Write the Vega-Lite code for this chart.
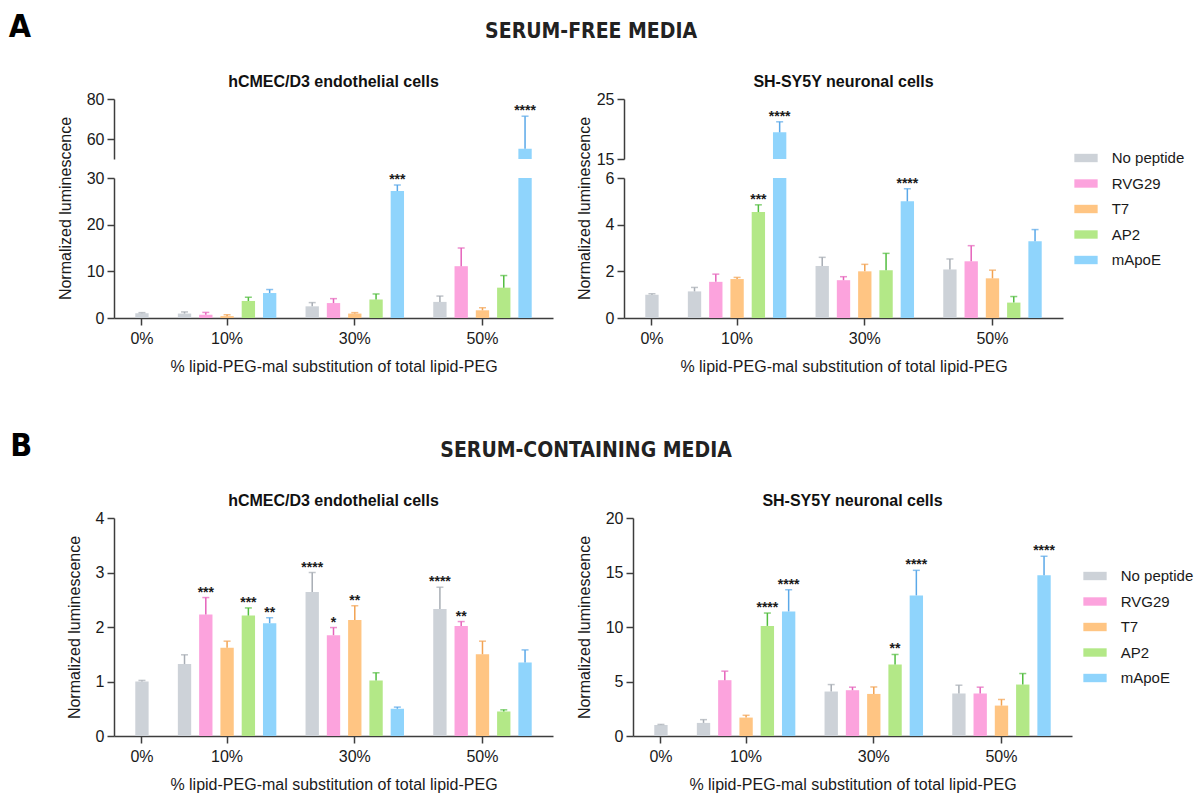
{
 "$schema": "https://vega.github.io/schema/vega-lite/v6.json",
 "background": "white",
 "padding": {"left": 8, "top": 11, "right": 2, "bottom": 2},
 "spacing": 56,
 "datasets": {
  "AL": [
   {"bar":"0% No peptide","peptide":"No peptide","value":1.0,"hi":1.15,"sig":""},
   {"bar":"10% No peptide","peptide":"No peptide","value":0.95,"hi":1.3,"sig":""},
   {"bar":"10% RVG29","peptide":"RVG29","value":0.7,"hi":1.2,"sig":""},
   {"bar":"10% T7","peptide":"T7","value":0.4,"hi":0.7,"sig":""},
   {"bar":"10% AP2","peptide":"AP2","value":3.65,"hi":4.45,"sig":""},
   {"bar":"10% mApoE","peptide":"mApoE","value":5.35,"hi":6.1,"sig":""},
   {"bar":"30% No peptide","peptide":"No peptide","value":2.5,"hi":3.3,"sig":""},
   {"bar":"30% RVG29","peptide":"RVG29","value":3.2,"hi":4.15,"sig":""},
   {"bar":"30% T7","peptide":"T7","value":0.95,"hi":1.15,"sig":""},
   {"bar":"30% AP2","peptide":"AP2","value":3.95,"hi":5.15,"sig":""},
   {"bar":"30% mApoE","peptide":"mApoE","value":27.2,"hi":28.5,"sig":"***"},
   {"bar":"50% No peptide","peptide":"No peptide","value":3.45,"hi":4.7,"sig":""},
   {"bar":"50% RVG29","peptide":"RVG29","value":11.1,"hi":15.0,"sig":""},
   {"bar":"50% T7","peptide":"T7","value":1.65,"hi":2.2,"sig":""},
   {"bar":"50% AP2","peptide":"AP2","value":6.5,"hi":9.1,"sig":""},
   {"bar":"50% mApoE","peptide":"mApoE","value":55.1,"hi":71.4,"sig":"****"}
  ],
  "AR": [
   {"bar":"0% No peptide","peptide":"No peptide","value":1.0,"hi":1.04,"sig":""},
   {"bar":"10% No peptide","peptide":"No peptide","value":1.14,"hi":1.31,"sig":""},
   {"bar":"10% RVG29","peptide":"RVG29","value":1.55,"hi":1.88,"sig":""},
   {"bar":"10% T7","peptide":"T7","value":1.67,"hi":1.74,"sig":""},
   {"bar":"10% AP2","peptide":"AP2","value":4.54,"hi":4.85,"sig":"***"},
   {"bar":"10% mApoE","peptide":"mApoE","value":19.44,"hi":21.2,"sig":"****"},
   {"bar":"30% No peptide","peptide":"No peptide","value":2.23,"hi":2.6,"sig":""},
   {"bar":"30% RVG29","peptide":"RVG29","value":1.62,"hi":1.77,"sig":""},
   {"bar":"30% T7","peptide":"T7","value":2.0,"hi":2.3,"sig":""},
   {"bar":"30% AP2","peptide":"AP2","value":2.05,"hi":2.77,"sig":""},
   {"bar":"30% mApoE","peptide":"mApoE","value":5.0,"hi":5.54,"sig":"****"},
   {"bar":"50% No peptide","peptide":"No peptide","value":2.08,"hi":2.53,"sig":""},
   {"bar":"50% RVG29","peptide":"RVG29","value":2.43,"hi":3.1,"sig":""},
   {"bar":"50% T7","peptide":"T7","value":1.7,"hi":2.05,"sig":""},
   {"bar":"50% AP2","peptide":"AP2","value":0.66,"hi":0.92,"sig":""},
   {"bar":"50% mApoE","peptide":"mApoE","value":3.29,"hi":3.79,"sig":""}
  ],
  "BL": [
   {"bar":"0% No peptide","peptide":"No peptide","value":1.0,"hi":1.02,"sig":""},
   {"bar":"10% No peptide","peptide":"No peptide","value":1.32,"hi":1.49,"sig":""},
   {"bar":"10% RVG29","peptide":"RVG29","value":2.23,"hi":2.54,"sig":"***"},
   {"bar":"10% T7","peptide":"T7","value":1.62,"hi":1.74,"sig":""},
   {"bar":"10% AP2","peptide":"AP2","value":2.21,"hi":2.35,"sig":"***"},
   {"bar":"10% mApoE","peptide":"mApoE","value":2.07,"hi":2.17,"sig":"**"},
   {"bar":"30% No peptide","peptide":"No peptide","value":2.64,"hi":3.0,"sig":"****"},
   {"bar":"30% RVG29","peptide":"RVG29","value":1.85,"hi":1.99,"sig":"*"},
   {"bar":"30% T7","peptide":"T7","value":2.13,"hi":2.39,"sig":"**"},
   {"bar":"30% AP2","peptide":"AP2","value":1.02,"hi":1.16,"sig":""},
   {"bar":"30% mApoE","peptide":"mApoE","value":0.5,"hi":0.53,"sig":""},
   {"bar":"50% No peptide","peptide":"No peptide","value":2.33,"hi":2.73,"sig":"****"},
   {"bar":"50% RVG29","peptide":"RVG29","value":2.02,"hi":2.1,"sig":"**"},
   {"bar":"50% T7","peptide":"T7","value":1.5,"hi":1.74,"sig":""},
   {"bar":"50% AP2","peptide":"AP2","value":0.45,"hi":0.48,"sig":""},
   {"bar":"50% mApoE","peptide":"mApoE","value":1.35,"hi":1.58,"sig":""}
  ],
  "BR": [
   {"bar":"0% No peptide","peptide":"No peptide","value":1.0,"hi":1.06,"sig":""},
   {"bar":"10% No peptide","peptide":"No peptide","value":1.2,"hi":1.5,"sig":""},
   {"bar":"10% RVG29","peptide":"RVG29","value":5.12,"hi":5.95,"sig":""},
   {"bar":"10% T7","peptide":"T7","value":1.69,"hi":1.9,"sig":""},
   {"bar":"10% AP2","peptide":"AP2","value":10.1,"hi":11.28,"sig":"****"},
   {"bar":"10% mApoE","peptide":"mApoE","value":11.43,"hi":13.42,"sig":"****"},
   {"bar":"30% No peptide","peptide":"No peptide","value":4.08,"hi":4.72,"sig":""},
   {"bar":"30% RVG29","peptide":"RVG29","value":4.2,"hi":4.48,"sig":""},
   {"bar":"30% T7","peptide":"T7","value":3.86,"hi":4.5,"sig":""},
   {"bar":"30% AP2","peptide":"AP2","value":6.56,"hi":7.48,"sig":"**"},
   {"bar":"30% mApoE","peptide":"mApoE","value":12.9,"hi":15.2,"sig":"****"},
   {"bar":"50% No peptide","peptide":"No peptide","value":3.9,"hi":4.66,"sig":""},
   {"bar":"50% RVG29","peptide":"RVG29","value":3.9,"hi":4.48,"sig":""},
   {"bar":"50% T7","peptide":"T7","value":2.79,"hi":3.35,"sig":""},
   {"bar":"50% AP2","peptide":"AP2","value":4.72,"hi":5.73,"sig":""},
   {"bar":"50% mApoE","peptide":"mApoE","value":14.74,"hi":16.49,"sig":"****"}
  ]
 },
 "vconcat": [
  {
   "title": {"text": "A", "orient": "left", "anchor": "end", "angle": 0, "align": "right", "baseline": "top", "offset": 4, "dy": -9, "fontSize": 32, "font": "Liberation Sans Narrow, DejaVu Sans Condensed, sans-serif", "fontWeight": "bold", "color": "#000000"},
   "vconcat": [
    {
     "title": {"text": "SERUM-FREE MEDIA", "anchor": "middle", "fontSize": 21, "font": "Liberation Sans Narrow, DejaVu Sans Condensed, sans-serif", "fontWeight": "bold", "color": "#222222", "offset": 32, "dx": -30},
     "spacing": 23,
     "hconcat": [
      {
       "bounds": "flush",
       "spacing": 19,
       "vconcat": [
        {
         "title": {"text": "hCMEC/D3 endothelial cells", "frame": "group", "anchor": "middle", "offset": 1},
         "width": 439, "height": 60,
         "data": {"name": "AL"},
         "layer": [
          {"mark": {"type": "bar", "clip": true},
           "encoding": {
            "x": {"field": "bar", "type": "nominal", "sort": null, "scale": {"domain": ["0% No peptide","g1","10% No peptide","10% RVG29","10% T7","10% AP2","10% mApoE","g2","30% No peptide","30% RVG29","30% T7","30% AP2","30% mApoE","g3","50% No peptide","50% RVG29","50% T7","50% AP2","50% mApoE"], "paddingInner": 0.373, "paddingOuter": 1.28}, "axis": null},
            "y": {"field": "value", "type": "quantitative", "scale": {"domain": [50, 80], "nice": false}, "axis": {"title": null, "values": [60, 80], "format": "d"}},
            "color": {"field": "peptide", "type": "nominal", "scale": {"domain": ["No peptide","RVG29","T7","AP2","mApoE"], "range": ["#cdd2d8","#fca3dd","#ffc583","#b3e887","#8fd4fc"]}, "legend": null}
           }},
          {"mark": {"type": "rule", "clip": true, "strokeWidth": 1.5},
           "encoding": {
            "x": {"field": "bar", "type": "nominal", "sort": null, "scale": {"domain": ["0% No peptide","g1","10% No peptide","10% RVG29","10% T7","10% AP2","10% mApoE","g2","30% No peptide","30% RVG29","30% T7","30% AP2","30% mApoE","g3","50% No peptide","50% RVG29","50% T7","50% AP2","50% mApoE"], "paddingInner": 0.373, "paddingOuter": 1.28}, "axis": null},
            "y": {"field": "value", "type": "quantitative", "scale": {"domain": [50, 80], "nice": false}},
            "y2": {"field": "hi"},
            "stroke": {"field": "peptide", "type": "nominal", "scale": {"domain": ["No peptide","RVG29","T7","AP2","mApoE"], "range": ["#a7adb4","#e562bb","#f2a352","#52bd3f","#5aa8e8"]}, "legend": null}
           }},
          {"mark": {"type": "tick", "clip": true, "orient": "horizontal", "size": 7, "thickness": 1.5},
           "encoding": {
            "x": {"field": "bar", "type": "nominal", "sort": null, "scale": {"domain": ["0% No peptide","g1","10% No peptide","10% RVG29","10% T7","10% AP2","10% mApoE","g2","30% No peptide","30% RVG29","30% T7","30% AP2","30% mApoE","g3","50% No peptide","50% RVG29","50% T7","50% AP2","50% mApoE"], "paddingInner": 0.373, "paddingOuter": 1.28}, "axis": null},
            "y": {"field": "hi", "type": "quantitative", "scale": {"domain": [50, 80], "nice": false}},
            "fill": {"field": "peptide", "type": "nominal", "scale": {"domain": ["No peptide","RVG29","T7","AP2","mApoE"], "range": ["#a7adb4","#e562bb","#f2a352","#52bd3f","#5aa8e8"]}, "legend": null}
           }},
          {"transform": [{"filter": "datum.sig != '' && datum.hi > 30"}],
           "mark": {"type": "text", "baseline": "alphabetic", "dy": -1, "fontSize": 14, "fontWeight": "bold", "color": "#1a1a1a"},
           "encoding": {
            "x": {"field": "bar", "type": "nominal", "sort": null, "scale": {"domain": ["0% No peptide","g1","10% No peptide","10% RVG29","10% T7","10% AP2","10% mApoE","g2","30% No peptide","30% RVG29","30% T7","30% AP2","30% mApoE","g3","50% No peptide","50% RVG29","50% T7","50% AP2","50% mApoE"], "paddingInner": 0.373, "paddingOuter": 1.28}, "axis": null},
            "y": {"field": "hi", "type": "quantitative", "scale": {"domain": [50, 80], "nice": false}},
            "text": {"field": "sig", "type": "nominal"}
           }}
         ]
        },
        {
         "width": 439, "height": 140,
         "data": {"name": "AL"},
         "layer": [
          {"mark": {"type": "bar", "clip": true},
           "encoding": {
            "x": {"field": "bar", "type": "nominal", "sort": null, "scale": {"domain": ["0% No peptide","g1","10% No peptide","10% RVG29","10% T7","10% AP2","10% mApoE","g2","30% No peptide","30% RVG29","30% T7","30% AP2","30% mApoE","g3","50% No peptide","50% RVG29","50% T7","50% AP2","50% mApoE"], "paddingInner": 0.373, "paddingOuter": 1.28}, "axis": {"title": "% lipid-PEG-mal substitution of total lipid-PEG", "values": ["0% No peptide","10% T7","30% T7","50% T7"], "labelExpr": "split(datum.value, ' ')[0]", "bandPosition": 0.5}},
            "y": {"field": "value", "type": "quantitative", "scale": {"domain": [0, 30], "nice": false}, "axis": {"title": "Normalized luminescence", "values": [0, 10, 20, 30], "format": "d", "titleY": 30}},
            "color": {"field": "peptide", "type": "nominal", "scale": {"domain": ["No peptide","RVG29","T7","AP2","mApoE"], "range": ["#cdd2d8","#fca3dd","#ffc583","#b3e887","#8fd4fc"]}, "legend": null}
           }},
          {"mark": {"type": "rule", "clip": true, "strokeWidth": 1.5},
           "encoding": {
            "x": {"field": "bar", "type": "nominal", "sort": null, "scale": {"domain": ["0% No peptide","g1","10% No peptide","10% RVG29","10% T7","10% AP2","10% mApoE","g2","30% No peptide","30% RVG29","30% T7","30% AP2","30% mApoE","g3","50% No peptide","50% RVG29","50% T7","50% AP2","50% mApoE"], "paddingInner": 0.373, "paddingOuter": 1.28}, "axis": {"title": "% lipid-PEG-mal substitution of total lipid-PEG", "values": ["0% No peptide","10% T7","30% T7","50% T7"], "labelExpr": "split(datum.value, ' ')[0]", "bandPosition": 0.5}},
            "y": {"field": "value", "type": "quantitative", "scale": {"domain": [0, 30], "nice": false}},
            "y2": {"field": "hi"},
            "stroke": {"field": "peptide", "type": "nominal", "scale": {"domain": ["No peptide","RVG29","T7","AP2","mApoE"], "range": ["#a7adb4","#e562bb","#f2a352","#52bd3f","#5aa8e8"]}, "legend": null}
           }},
          {"mark": {"type": "tick", "clip": true, "orient": "horizontal", "size": 7, "thickness": 1.5},
           "encoding": {
            "x": {"field": "bar", "type": "nominal", "sort": null, "scale": {"domain": ["0% No peptide","g1","10% No peptide","10% RVG29","10% T7","10% AP2","10% mApoE","g2","30% No peptide","30% RVG29","30% T7","30% AP2","30% mApoE","g3","50% No peptide","50% RVG29","50% T7","50% AP2","50% mApoE"], "paddingInner": 0.373, "paddingOuter": 1.28}, "axis": {"title": "% lipid-PEG-mal substitution of total lipid-PEG", "values": ["0% No peptide","10% T7","30% T7","50% T7"], "labelExpr": "split(datum.value, ' ')[0]", "bandPosition": 0.5}},
            "y": {"field": "hi", "type": "quantitative", "scale": {"domain": [0, 30], "nice": false}},
            "fill": {"field": "peptide", "type": "nominal", "scale": {"domain": ["No peptide","RVG29","T7","AP2","mApoE"], "range": ["#a7adb4","#e562bb","#f2a352","#52bd3f","#5aa8e8"]}, "legend": null}
           }},
          {"transform": [{"filter": "datum.sig != '' && datum.hi <= 30"}],
           "mark": {"type": "text", "baseline": "alphabetic", "dy": -1, "fontSize": 14, "fontWeight": "bold", "color": "#1a1a1a"},
           "encoding": {
            "x": {"field": "bar", "type": "nominal", "sort": null, "scale": {"domain": ["0% No peptide","g1","10% No peptide","10% RVG29","10% T7","10% AP2","10% mApoE","g2","30% No peptide","30% RVG29","30% T7","30% AP2","30% mApoE","g3","50% No peptide","50% RVG29","50% T7","50% AP2","50% mApoE"], "paddingInner": 0.373, "paddingOuter": 1.28}, "axis": {"title": "% lipid-PEG-mal substitution of total lipid-PEG", "values": ["0% No peptide","10% T7","30% T7","50% T7"], "labelExpr": "split(datum.value, ' ')[0]", "bandPosition": 0.5}},
            "y": {"field": "hi", "type": "quantitative", "scale": {"domain": [0, 30], "nice": false}},
            "text": {"field": "sig", "type": "nominal"}
           }}
         ]
        }
       ]
      },
      {
       "bounds": "flush",
       "spacing": 19,
       "resolve": {"scale": {"color": "independent"}},
       "vconcat": [
        {
         "title": {"text": "SH-SY5Y neuronal cells", "frame": "group", "anchor": "middle", "offset": 1},
         "width": 439, "height": 60,
         "data": {"name": "AR"},
         "layer": [
          {"mark": {"type": "bar", "clip": true},
           "encoding": {
            "x": {"field": "bar", "type": "nominal", "sort": null, "scale": {"domain": ["0% No peptide","g1","10% No peptide","10% RVG29","10% T7","10% AP2","10% mApoE","g2","30% No peptide","30% RVG29","30% T7","30% AP2","30% mApoE","g3","50% No peptide","50% RVG29","50% T7","50% AP2","50% mApoE"], "paddingInner": 0.373, "paddingOuter": 1.28}, "axis": null},
            "y": {"field": "value", "type": "quantitative", "scale": {"domain": [15, 25], "nice": false}, "axis": {"title": null, "values": [15, 20, 25], "format": "d"}},
            "color": {"field": "peptide", "type": "nominal", "scale": {"domain": ["No peptide","RVG29","T7","AP2","mApoE"], "range": ["#cdd2d8","#fca3dd","#ffc583","#b3e887","#8fd4fc"]}, "legend": null}
           }},
          {"mark": {"type": "rule", "clip": true, "strokeWidth": 1.5},
           "encoding": {
            "x": {"field": "bar", "type": "nominal", "sort": null, "scale": {"domain": ["0% No peptide","g1","10% No peptide","10% RVG29","10% T7","10% AP2","10% mApoE","g2","30% No peptide","30% RVG29","30% T7","30% AP2","30% mApoE","g3","50% No peptide","50% RVG29","50% T7","50% AP2","50% mApoE"], "paddingInner": 0.373, "paddingOuter": 1.28}, "axis": null},
            "y": {"field": "value", "type": "quantitative", "scale": {"domain": [15, 25], "nice": false}},
            "y2": {"field": "hi"},
            "stroke": {"field": "peptide", "type": "nominal", "scale": {"domain": ["No peptide","RVG29","T7","AP2","mApoE"], "range": ["#a7adb4","#e562bb","#f2a352","#52bd3f","#5aa8e8"]}, "legend": null}
           }},
          {"mark": {"type": "tick", "clip": true, "orient": "horizontal", "size": 7, "thickness": 1.5},
           "encoding": {
            "x": {"field": "bar", "type": "nominal", "sort": null, "scale": {"domain": ["0% No peptide","g1","10% No peptide","10% RVG29","10% T7","10% AP2","10% mApoE","g2","30% No peptide","30% RVG29","30% T7","30% AP2","30% mApoE","g3","50% No peptide","50% RVG29","50% T7","50% AP2","50% mApoE"], "paddingInner": 0.373, "paddingOuter": 1.28}, "axis": null},
            "y": {"field": "hi", "type": "quantitative", "scale": {"domain": [15, 25], "nice": false}},
            "fill": {"field": "peptide", "type": "nominal", "scale": {"domain": ["No peptide","RVG29","T7","AP2","mApoE"], "range": ["#a7adb4","#e562bb","#f2a352","#52bd3f","#5aa8e8"]}, "legend": null}
           }},
          {"transform": [{"filter": "datum.sig != '' && datum.hi > 6"}],
           "mark": {"type": "text", "baseline": "alphabetic", "dy": -1, "fontSize": 14, "fontWeight": "bold", "color": "#1a1a1a"},
           "encoding": {
            "x": {"field": "bar", "type": "nominal", "sort": null, "scale": {"domain": ["0% No peptide","g1","10% No peptide","10% RVG29","10% T7","10% AP2","10% mApoE","g2","30% No peptide","30% RVG29","30% T7","30% AP2","30% mApoE","g3","50% No peptide","50% RVG29","50% T7","50% AP2","50% mApoE"], "paddingInner": 0.373, "paddingOuter": 1.28}, "axis": null},
            "y": {"field": "hi", "type": "quantitative", "scale": {"domain": [15, 25], "nice": false}},
            "text": {"field": "sig", "type": "nominal"}
           }}
         ]
        },
        {
         "width": 439, "height": 140,
         "data": {"name": "AR"},
         "layer": [
          {"mark": {"type": "bar", "clip": true},
           "encoding": {
            "x": {"field": "bar", "type": "nominal", "sort": null, "scale": {"domain": ["0% No peptide","g1","10% No peptide","10% RVG29","10% T7","10% AP2","10% mApoE","g2","30% No peptide","30% RVG29","30% T7","30% AP2","30% mApoE","g3","50% No peptide","50% RVG29","50% T7","50% AP2","50% mApoE"], "paddingInner": 0.373, "paddingOuter": 1.28}, "axis": {"title": "% lipid-PEG-mal substitution of total lipid-PEG", "values": ["0% No peptide","10% T7","30% T7","50% T7"], "labelExpr": "split(datum.value, ' ')[0]", "bandPosition": 0.5}},
            "y": {"field": "value", "type": "quantitative", "scale": {"domain": [0, 6], "nice": false}, "axis": {"title": "Normalized luminescence", "values": [0, 2, 4, 6], "format": "d", "titleY": 30}},
            "color": {"field": "peptide", "type": "nominal", "scale": {"domain": ["No peptide","RVG29","T7","AP2","mApoE"], "range": ["#cdd2d8","#fca3dd","#ffc583","#b3e887","#8fd4fc"]},
             "legend": {"orient": "none", "legendX": 450, "legendY": -32, "title": null, "symbolType": "M-1,-0.36H1V0.36H-1Z", "symbolSize": 543, "symbolStrokeWidth": 0, "symbolOpacity": 1, "labelFontSize": 15, "labelColor": "#1a1a1a", "labelOffset": 13.7, "rowPadding": 5.5, "padding": 0}}
           }},
          {"mark": {"type": "rule", "clip": true, "strokeWidth": 1.5},
           "encoding": {
            "x": {"field": "bar", "type": "nominal", "sort": null, "scale": {"domain": ["0% No peptide","g1","10% No peptide","10% RVG29","10% T7","10% AP2","10% mApoE","g2","30% No peptide","30% RVG29","30% T7","30% AP2","30% mApoE","g3","50% No peptide","50% RVG29","50% T7","50% AP2","50% mApoE"], "paddingInner": 0.373, "paddingOuter": 1.28}, "axis": {"title": "% lipid-PEG-mal substitution of total lipid-PEG", "values": ["0% No peptide","10% T7","30% T7","50% T7"], "labelExpr": "split(datum.value, ' ')[0]", "bandPosition": 0.5}},
            "y": {"field": "value", "type": "quantitative", "scale": {"domain": [0, 6], "nice": false}},
            "y2": {"field": "hi"},
            "stroke": {"field": "peptide", "type": "nominal", "scale": {"domain": ["No peptide","RVG29","T7","AP2","mApoE"], "range": ["#a7adb4","#e562bb","#f2a352","#52bd3f","#5aa8e8"]}, "legend": null}
           }},
          {"mark": {"type": "tick", "clip": true, "orient": "horizontal", "size": 7, "thickness": 1.5},
           "encoding": {
            "x": {"field": "bar", "type": "nominal", "sort": null, "scale": {"domain": ["0% No peptide","g1","10% No peptide","10% RVG29","10% T7","10% AP2","10% mApoE","g2","30% No peptide","30% RVG29","30% T7","30% AP2","30% mApoE","g3","50% No peptide","50% RVG29","50% T7","50% AP2","50% mApoE"], "paddingInner": 0.373, "paddingOuter": 1.28}, "axis": {"title": "% lipid-PEG-mal substitution of total lipid-PEG", "values": ["0% No peptide","10% T7","30% T7","50% T7"], "labelExpr": "split(datum.value, ' ')[0]", "bandPosition": 0.5}},
            "y": {"field": "hi", "type": "quantitative", "scale": {"domain": [0, 6], "nice": false}},
            "fill": {"field": "peptide", "type": "nominal", "scale": {"domain": ["No peptide","RVG29","T7","AP2","mApoE"], "range": ["#a7adb4","#e562bb","#f2a352","#52bd3f","#5aa8e8"]}, "legend": null}
           }},
          {"transform": [{"filter": "datum.sig != '' && datum.hi <= 6"}],
           "mark": {"type": "text", "baseline": "alphabetic", "dy": -1, "fontSize": 14, "fontWeight": "bold", "color": "#1a1a1a"},
           "encoding": {
            "x": {"field": "bar", "type": "nominal", "sort": null, "scale": {"domain": ["0% No peptide","g1","10% No peptide","10% RVG29","10% T7","10% AP2","10% mApoE","g2","30% No peptide","30% RVG29","30% T7","30% AP2","30% mApoE","g3","50% No peptide","50% RVG29","50% T7","50% AP2","50% mApoE"], "paddingInner": 0.373, "paddingOuter": 1.28}, "axis": {"title": "% lipid-PEG-mal substitution of total lipid-PEG", "values": ["0% No peptide","10% T7","30% T7","50% T7"], "labelExpr": "split(datum.value, ' ')[0]", "bandPosition": 0.5}},
            "y": {"field": "hi", "type": "quantitative", "scale": {"domain": [0, 6], "nice": false}},
            "text": {"field": "sig", "type": "nominal"}
           }}
         ]
        }
       ]
      }
     ]
    }
   ]
  },
  {
   "title": {"text": "B", "orient": "left", "anchor": "end", "angle": 0, "align": "right", "baseline": "top", "offset": 12, "dy": -9, "fontSize": 32, "font": "Liberation Sans Narrow, DejaVu Sans Condensed, sans-serif", "fontWeight": "bold", "color": "#000000"},
   "vconcat": [
    {
     "title": {"text": "SERUM-CONTAINING MEDIA", "anchor": "middle", "fontSize": 21, "font": "Liberation Sans Narrow, DejaVu Sans Condensed, sans-serif", "fontWeight": "bold", "color": "#222222", "offset": 32, "dx": -44},
     "spacing": 23,
     "resolve": {"scale": {"color": "independent"}},
     "hconcat": [
      {
       "title": {"text": "hCMEC/D3 endothelial cells", "frame": "group", "anchor": "middle", "offset": 1},
       "width": 439, "height": 218,
       "data": {"name": "BL"},
       "layer": [
        {"mark": {"type": "bar", "clip": true},
         "encoding": {
          "x": {"field": "bar", "type": "nominal", "sort": null, "scale": {"domain": ["0% No peptide","g1","10% No peptide","10% RVG29","10% T7","10% AP2","10% mApoE","g2","30% No peptide","30% RVG29","30% T7","30% AP2","30% mApoE","g3","50% No peptide","50% RVG29","50% T7","50% AP2","50% mApoE"], "paddingInner": 0.373, "paddingOuter": 1.28}, "axis": {"title": "% lipid-PEG-mal substitution of total lipid-PEG", "values": ["0% No peptide","10% T7","30% T7","50% T7"], "labelExpr": "split(datum.value, ' ')[0]", "bandPosition": 0.5}},
          "y": {"field": "value", "type": "quantitative", "scale": {"domain": [0, 4], "nice": false}, "axis": {"title": "Normalized luminescence", "values": [0, 1, 2, 3, 4], "format": "d"}},
          "color": {"field": "peptide", "type": "nominal", "scale": {"domain": ["No peptide","RVG29","T7","AP2","mApoE"], "range": ["#cdd2d8","#fca3dd","#ffc583","#b3e887","#8fd4fc"]}, "legend": null}
         }},
        {"mark": {"type": "rule", "clip": true, "strokeWidth": 1.5},
         "encoding": {
          "x": {"field": "bar", "type": "nominal", "sort": null, "scale": {"domain": ["0% No peptide","g1","10% No peptide","10% RVG29","10% T7","10% AP2","10% mApoE","g2","30% No peptide","30% RVG29","30% T7","30% AP2","30% mApoE","g3","50% No peptide","50% RVG29","50% T7","50% AP2","50% mApoE"], "paddingInner": 0.373, "paddingOuter": 1.28}, "axis": {"title": "% lipid-PEG-mal substitution of total lipid-PEG", "values": ["0% No peptide","10% T7","30% T7","50% T7"], "labelExpr": "split(datum.value, ' ')[0]", "bandPosition": 0.5}},
          "y": {"field": "value", "type": "quantitative", "scale": {"domain": [0, 4], "nice": false}},
          "y2": {"field": "hi"},
          "stroke": {"field": "peptide", "type": "nominal", "scale": {"domain": ["No peptide","RVG29","T7","AP2","mApoE"], "range": ["#a7adb4","#e562bb","#f2a352","#52bd3f","#5aa8e8"]}, "legend": null}
         }},
        {"mark": {"type": "tick", "clip": true, "orient": "horizontal", "size": 7, "thickness": 1.5},
         "encoding": {
          "x": {"field": "bar", "type": "nominal", "sort": null, "scale": {"domain": ["0% No peptide","g1","10% No peptide","10% RVG29","10% T7","10% AP2","10% mApoE","g2","30% No peptide","30% RVG29","30% T7","30% AP2","30% mApoE","g3","50% No peptide","50% RVG29","50% T7","50% AP2","50% mApoE"], "paddingInner": 0.373, "paddingOuter": 1.28}, "axis": {"title": "% lipid-PEG-mal substitution of total lipid-PEG", "values": ["0% No peptide","10% T7","30% T7","50% T7"], "labelExpr": "split(datum.value, ' ')[0]", "bandPosition": 0.5}},
          "y": {"field": "hi", "type": "quantitative", "scale": {"domain": [0, 4], "nice": false}},
          "fill": {"field": "peptide", "type": "nominal", "scale": {"domain": ["No peptide","RVG29","T7","AP2","mApoE"], "range": ["#a7adb4","#e562bb","#f2a352","#52bd3f","#5aa8e8"]}, "legend": null}
         }},
        {"transform": [{"filter": "datum.sig != ''"}],
         "mark": {"type": "text", "baseline": "alphabetic", "dy": -1, "fontSize": 14, "fontWeight": "bold", "color": "#1a1a1a"},
         "encoding": {
          "x": {"field": "bar", "type": "nominal", "sort": null, "scale": {"domain": ["0% No peptide","g1","10% No peptide","10% RVG29","10% T7","10% AP2","10% mApoE","g2","30% No peptide","30% RVG29","30% T7","30% AP2","30% mApoE","g3","50% No peptide","50% RVG29","50% T7","50% AP2","50% mApoE"], "paddingInner": 0.373, "paddingOuter": 1.28}, "axis": {"title": "% lipid-PEG-mal substitution of total lipid-PEG", "values": ["0% No peptide","10% T7","30% T7","50% T7"], "labelExpr": "split(datum.value, ' ')[0]", "bandPosition": 0.5}},
          "y": {"field": "hi", "type": "quantitative", "scale": {"domain": [0, 4], "nice": false}},
          "text": {"field": "sig", "type": "nominal"}
         }}
       ]
      },
      {
       "title": {"text": "SH-SY5Y neuronal cells", "frame": "group", "anchor": "middle", "offset": 1},
       "width": 439, "height": 218,
       "data": {"name": "BR"},
       "layer": [
        {"mark": {"type": "bar", "clip": true},
         "encoding": {
          "x": {"field": "bar", "type": "nominal", "sort": null, "scale": {"domain": ["0% No peptide","g1","10% No peptide","10% RVG29","10% T7","10% AP2","10% mApoE","g2","30% No peptide","30% RVG29","30% T7","30% AP2","30% mApoE","g3","50% No peptide","50% RVG29","50% T7","50% AP2","50% mApoE"], "paddingInner": 0.373, "paddingOuter": 1.28}, "axis": {"title": "% lipid-PEG-mal substitution of total lipid-PEG", "values": ["0% No peptide","10% T7","30% T7","50% T7"], "labelExpr": "split(datum.value, ' ')[0]", "bandPosition": 0.5}},
          "y": {"field": "value", "type": "quantitative", "scale": {"domain": [0, 20], "nice": false}, "axis": {"title": "Normalized luminescence", "values": [0, 5, 10, 15, 20], "format": "d"}},
          "color": {"field": "peptide", "type": "nominal", "scale": {"domain": ["No peptide","RVG29","T7","AP2","mApoE"], "range": ["#cdd2d8","#fca3dd","#ffc583","#b3e887","#8fd4fc"]},
           "legend": {"orient": "none", "legendX": 450, "legendY": 46, "title": null, "symbolType": "M-1,-0.36H1V0.36H-1Z", "symbolSize": 543, "symbolStrokeWidth": 0, "symbolOpacity": 1, "labelFontSize": 15, "labelColor": "#1a1a1a", "labelOffset": 13.7, "rowPadding": 5.5, "padding": 0}}
         }},
        {"mark": {"type": "rule", "clip": true, "strokeWidth": 1.5},
         "encoding": {
          "x": {"field": "bar", "type": "nominal", "sort": null, "scale": {"domain": ["0% No peptide","g1","10% No peptide","10% RVG29","10% T7","10% AP2","10% mApoE","g2","30% No peptide","30% RVG29","30% T7","30% AP2","30% mApoE","g3","50% No peptide","50% RVG29","50% T7","50% AP2","50% mApoE"], "paddingInner": 0.373, "paddingOuter": 1.28}, "axis": {"title": "% lipid-PEG-mal substitution of total lipid-PEG", "values": ["0% No peptide","10% T7","30% T7","50% T7"], "labelExpr": "split(datum.value, ' ')[0]", "bandPosition": 0.5}},
          "y": {"field": "value", "type": "quantitative", "scale": {"domain": [0, 20], "nice": false}},
          "y2": {"field": "hi"},
          "stroke": {"field": "peptide", "type": "nominal", "scale": {"domain": ["No peptide","RVG29","T7","AP2","mApoE"], "range": ["#a7adb4","#e562bb","#f2a352","#52bd3f","#5aa8e8"]}, "legend": null}
         }},
        {"mark": {"type": "tick", "clip": true, "orient": "horizontal", "size": 7, "thickness": 1.5},
         "encoding": {
          "x": {"field": "bar", "type": "nominal", "sort": null, "scale": {"domain": ["0% No peptide","g1","10% No peptide","10% RVG29","10% T7","10% AP2","10% mApoE","g2","30% No peptide","30% RVG29","30% T7","30% AP2","30% mApoE","g3","50% No peptide","50% RVG29","50% T7","50% AP2","50% mApoE"], "paddingInner": 0.373, "paddingOuter": 1.28}, "axis": {"title": "% lipid-PEG-mal substitution of total lipid-PEG", "values": ["0% No peptide","10% T7","30% T7","50% T7"], "labelExpr": "split(datum.value, ' ')[0]", "bandPosition": 0.5}},
          "y": {"field": "hi", "type": "quantitative", "scale": {"domain": [0, 20], "nice": false}},
          "fill": {"field": "peptide", "type": "nominal", "scale": {"domain": ["No peptide","RVG29","T7","AP2","mApoE"], "range": ["#a7adb4","#e562bb","#f2a352","#52bd3f","#5aa8e8"]}, "legend": null}
         }},
        {"transform": [{"filter": "datum.sig != ''"}],
         "mark": {"type": "text", "baseline": "alphabetic", "dy": -1, "fontSize": 14, "fontWeight": "bold", "color": "#1a1a1a"},
         "encoding": {
          "x": {"field": "bar", "type": "nominal", "sort": null, "scale": {"domain": ["0% No peptide","g1","10% No peptide","10% RVG29","10% T7","10% AP2","10% mApoE","g2","30% No peptide","30% RVG29","30% T7","30% AP2","30% mApoE","g3","50% No peptide","50% RVG29","50% T7","50% AP2","50% mApoE"], "paddingInner": 0.373, "paddingOuter": 1.28}, "axis": {"title": "% lipid-PEG-mal substitution of total lipid-PEG", "values": ["0% No peptide","10% T7","30% T7","50% T7"], "labelExpr": "split(datum.value, ' ')[0]", "bandPosition": 0.5}},
          "y": {"field": "hi", "type": "quantitative", "scale": {"domain": [0, 20], "nice": false}},
          "text": {"field": "sig", "type": "nominal"}
         }}
       ]
      }
     ]
    }
   ]
  }
 ],
 "config": {
  "font": "Liberation Sans, Arial, sans-serif",
  "view": {"stroke": null},
  "axis": {"domainColor": "#3d3d3d", "domainWidth": 1.5, "tickColor": "#3d3d3d", "tickWidth": 1.5, "tickSize": 7, "labelFontSize": 16, "labelColor": "#1a1a1a", "labelFont": "Liberation Sans, Arial, sans-serif", "titleFont": "Liberation Sans, Arial, sans-serif", "titleFontSize": 16, "titleFontWeight": "normal", "titleColor": "#1a1a1a", "grid": false, "labelPadding": 3},
  "axisY": {"titlePadding": 13},
  "axisX": {"labelPadding": 5, "titlePadding": 12, "labelAngle": 0},
  "title": {"font": "Liberation Sans, Arial, sans-serif", "fontSize": 16, "fontWeight": "bold", "color": "#111111"},
  "legend": {"labelFont": "Liberation Sans, Arial, sans-serif"}
 }
}
